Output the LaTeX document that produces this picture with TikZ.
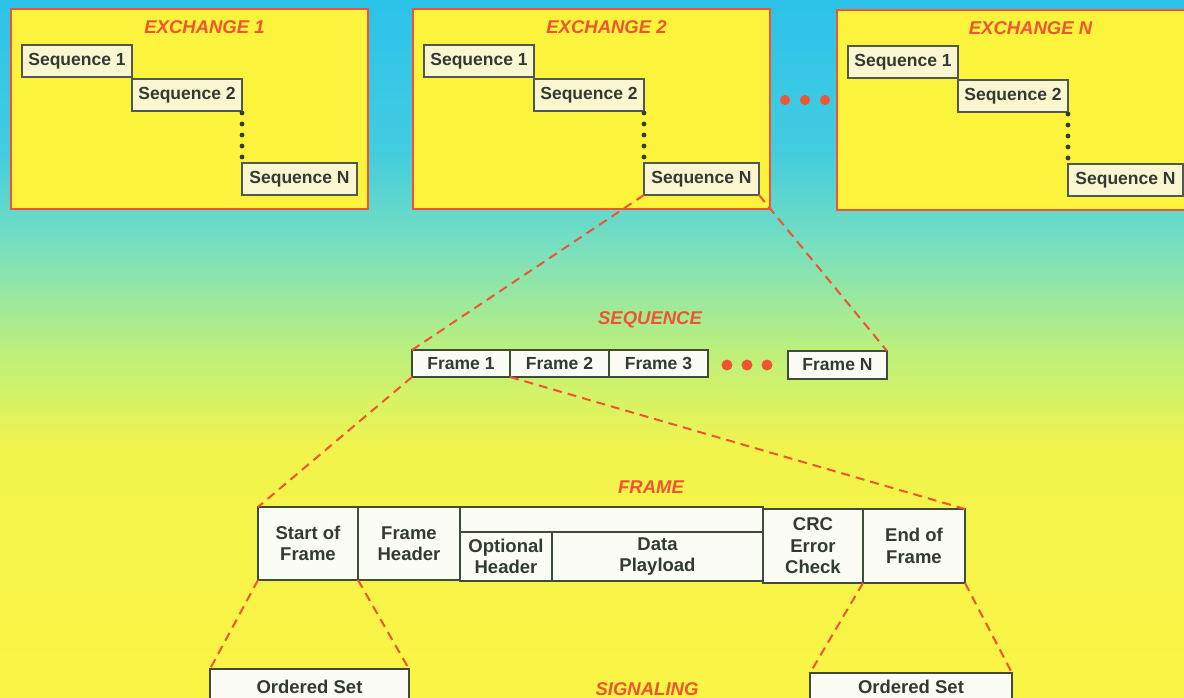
\documentclass[tikz,border=0pt]{standalone}
\usepackage{fontspec}
\setmainfont{Liberation Sans}
\usetikzlibrary{positioning}
\definecolor{ink}{RGB}{50, 58, 52}
\definecolor{flame}{RGB}{240, 84, 50}
\definecolor{exfill}{RGB}{252, 243, 60}
\definecolor{seqfill}{RGB}{250, 246, 208}
\definecolor{boxline}{RGB}{64, 76, 58}
\definecolor{fieldfill}{RGB}{252, 252, 246}
\definecolor{bgcyan}{RGB}{44, 194, 234}
\definecolor{bgteal}{RGB}{66, 204, 224}
\definecolor{bgmint}{RGB}{122, 224, 190}
\definecolor{bglime}{RGB}{188, 240, 124}
\definecolor{bgyellow}{RGB}{242, 244, 76}
\definecolor{bgdeep}{RGB}{250, 244, 68}
\pgfdeclareverticalshading{skyfade}{100bp}{%
    color(0bp)=(bgdeep); color(25bp)=(bgdeep); color(42.7bp)=(bgyellow);
    color(49.9bp)=(bglime); color(57.1bp)=(bgmint); color(64.2bp)=(bgteal);
    color(75bp)=(bgcyan); color(100bp)=(bgcyan)}
\tikzset{%
    exbox/.style={draw=flame, line width=1.8pt, fill=exfill, anchor=north west,
        minimum width=357pt, minimum height=200pt, inner sep=0, outer sep=0},
    title/.style={text=flame, anchor=base,
        font=\fontsize{18.5}{21}\selectfont\bfseries\itshape},
    seqbox/.style={draw=ink!85, line width=1.3pt, fill=seqfill, anchor=north west,
        minimum width=110pt, minimum height=32pt, inner sep=0, outer sep=0,
        text=ink, font=\fontsize{17.5}{20}\selectfont\bfseries},
    fieldbox/.style={draw=boxline, line width=1.8pt, fill=fieldfill, anchor=north west,
        inner sep=0, outer sep=0, text=ink, align=center,
        font=\fontsize{18.5}{21.5}\selectfont\bfseries},
    zoomline/.style={draw=flame, line width=2pt, dash pattern=on 9pt off 6pt},
    exchange/.pic={%
        \node[exbox] (box) at (0, 0) {};
        \node[title] at ([xshift=15pt, yshift=-24pt] box.north) {EXCHANGE #1};
        \node[seqbox] (s1) at (11, 36) {Sequence 1};
        \node[seqbox] (s2) at (121, 70) {Sequence 2};
        \node[seqbox, minimum width=115pt] (sN) at (231, 154) {Sequence N};
        \foreach \k in {0, ..., 4}{%
            \fill[ink] (231, 104 + 11*\k) circle (2.4pt);
        };
    }
}

\begin{document}
\begin{tikzpicture}[x=1pt, y=-1pt]

    \clip (0, 0) rectangle (1184, 697);
    \shade[shading=skyfade] (0, 0) rectangle (1184, 697);

    % Exchanges
    \pic (ex1-) at (11, 9) {exchange=1};
    \pic (ex2-) at (413, 9) {exchange=2};
    \pic (exN-) at (837, 10) {exchange=N};

    \foreach \x in {785, 805, 825}{%
        \fill[flame] (\x, 100) circle (5pt);
    };

    % Sequence
    \node[title] (seqtitle) at (650, 324) {SEQUENCE};
    \node[fieldbox, minimum width=98pt, minimum height=27pt,
        font=\fontsize{17.5}{20}\selectfont\bfseries] (f1) at (412, 350) {Frame 1};
    \node[fieldbox, minimum width=99pt, minimum height=27pt,
        font=\fontsize{17.5}{20}\selectfont\bfseries, right=0pt of f1] (f2) {Frame 2};
    \node[fieldbox, minimum width=99pt, minimum height=27pt,
        font=\fontsize{17.5}{20}\selectfont\bfseries, right=0pt of f2] (f3) {Frame 3};
    \node[fieldbox, minimum width=99pt, minimum height=28pt,
        font=\fontsize{17.5}{20}\selectfont\bfseries] (fN) at (788, 351) {Frame N};

    \foreach \x in {727, 747, 767}{%
        \fill[flame] (\x, 365) circle (5.5pt);
    };

    % Zoom lines
    \draw[zoomline] (ex2-sN.south west) -- (f1.north west);
    \draw[zoomline] (ex2-sN.south east) -- (fN.north east);

    % Frame
    \node[title] (frametitle) at (651, 493) {FRAME};
    \node[fieldbox, minimum width=100pt, minimum height=73pt] (sof) at (258, 507)
        {Start of\\Frame};
    \node[fieldbox, minimum width=102pt, minimum height=73pt, right=0pt of sof] (fhdr)
        {Frame\\Header};
    \node[fieldbox, minimum width=303pt, minimum height=25pt] (blank) at (fhdr.north east) {};
    \node[fieldbox, minimum width=92pt, minimum height=49pt] (opt) at (blank.south west)
        {Optional\\Header};
    \node[fieldbox, minimum width=211pt, minimum height=49pt, right=0pt of opt] (data)
        {Data\\Playload};
    \node[fieldbox, minimum width=100pt, minimum height=74pt] (crc)
        at ([yshift=-2pt] blank.north east) {CRC\\Error\\Check};
    \node[fieldbox, minimum width=102pt, minimum height=74pt, right=0pt of crc] (eof)
        {End of\\Frame};

    % Signaling
    \node[title] (sigtitle) at (647, 695) {SIGNALING};
    \node[fieldbox, minimum width=199pt, minimum height=35pt] (os1) at (210, 669)
        {Ordered Set};
    \node[fieldbox, minimum width=202pt, minimum height=28pt] (os2) at (810, 673)
        {Ordered Set};

    % Zoom lines
    \draw[zoomline] (f1.south west) -- (sof.north west);
    \draw[zoomline] (f1.south east) -- (eof.north east);
    \draw[zoomline] (sof.south west) -- (os1.north west);
    \draw[zoomline] (sof.south east) -- (os1.north east);
    \draw[zoomline] (eof.south west) -- (os2.north west);
    \draw[zoomline] (eof.south east) -- (os2.north east);

\end{tikzpicture}
\end{document}
